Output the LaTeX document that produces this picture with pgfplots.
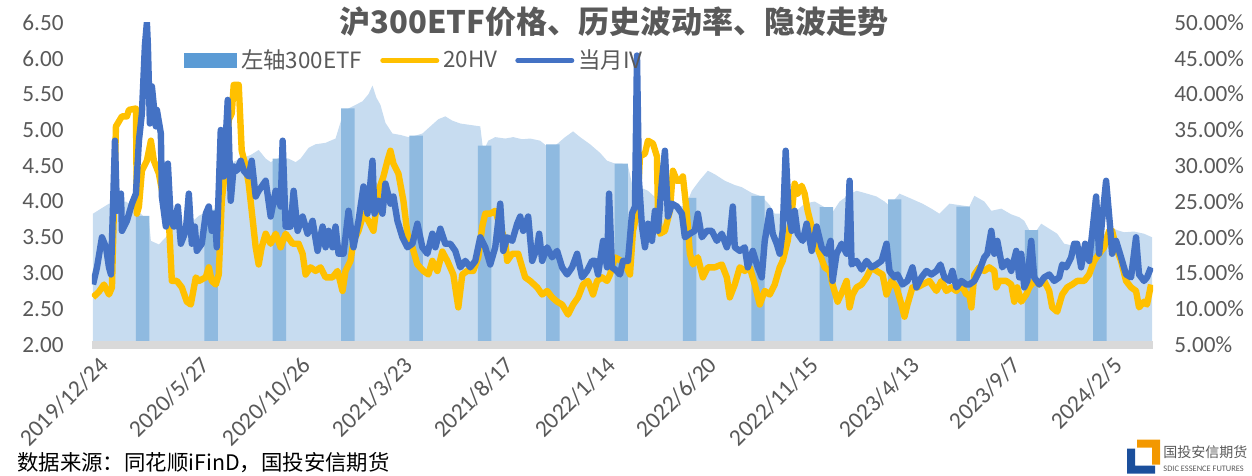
\documentclass[border=0pt]{standalone}
\usepackage{pgfplots}
\pgfplotsset{compat=1.18}
\usepackage{fontspec}
\setmainfont{Carlito}
\newfontfamily\cjk{Noto Sans CJK SC}

\definecolor{etflight}{HTML}{C7DCF0}
\definecolor{etfdark}{HTML}{8FBAE0}
\definecolor{etfkey}{HTML}{5B9BD5}
\definecolor{hv}{HTML}{FFC000}
\definecolor{iv}{HTML}{4472C4}
\definecolor{txt}{HTML}{595959}
\definecolor{axgray}{HTML}{D9D9D9}
\definecolor{logoorange}{HTML}{F39800}
\definecolor{logoblue}{HTML}{1B4F9C}

% 300ETF close (left axis); x = trading-day position
\pgfplotstableread{
x y
0 3.83
8 3.90
16 3.97
23 3.98
33 4.00
43 3.90
50 3.80
56 3.75
58 3.45
66 3.40
73 3.50
78 3.60
88 3.65
98 3.70
106 3.80
113 3.85
120 3.88
126 3.95
130 4.20
134 4.40
140 4.55
148 4.60
158 4.65
166 4.72
173 4.60
178 4.55
188 4.62
196 4.60
203 4.55
208 4.60
216 4.75
223 4.80
233 4.82
243 4.88
250 5.20
256 5.30
263 5.35
270 5.40
276 5.50
280 5.62
284 5.45
288 5.35
293 5.10
300 4.95
308 4.93
316 4.90
323 4.92
330 4.95
338 5.05
346 5.15
353 5.19
360 5.13
368 5.09
378 5.07
388 5.05
391 4.70
396 4.85
403 4.90
413 4.88
421 4.90
430 4.87
438 4.88
448 4.85
455 4.77
463 4.78
473 4.90
481 4.98
488 4.90
498 4.80
508 4.68
515 4.57
523 4.53
530 4.53
536 4.50
540 4.25
548 4.20
556 4.15
564 4.05
572 3.98
580 3.93
588 3.93
594 3.95
600 4.15
608 4.30
616 4.43
623 4.38
633 4.29
643 4.23
650 4.20
660 4.12
670 4.07
678 3.95
683 3.83
693 3.83
703 3.85
713 3.97
723 4.00
733 3.92
740 3.83
748 4.00
758 4.10
765 4.15
773 4.12
785 4.07
793 4.00
798 3.94
808 4.11
818 4.05
831 3.97
840 3.90
848 3.83
858 3.97
868 3.95
878 3.93
883 4.08
893 4.00
900 3.87
910 3.90
920 3.82
928 3.78
933 3.73
938 3.60
943 3.55
950 3.69
958 3.62
966 3.55
973 3.41
983 3.38
993 3.36
1002 3.38
1008 3.45
1016 3.60
1020 3.64
1026 3.60
1033 3.57
1043 3.58
1053 3.55
1061 3.50
}\etf

% darker bars that show up at regular spacing
\pgfplotstableread{
x y
49.75 3.80
118.25 3.88
186.75 4.60
255.25 5.30
323.75 4.92
392.25 4.78
460.75 4.80
529.25 4.53
597.75 4.05
666.25 4.08
734.75 3.92
803.25 4.03
871.75 3.93
940.25 3.60
1008.75 3.50
}\etfbars

% 20-day historical volatility, %
\pgfplotstableread{
x y
0 11.6
6 12.4
11 13.4
16 12.0
19 13.0
23 35.5
29 36.9
34 36.9
36 37.8
43 38.0
44 23.3
46 24.3
49 29.3
54 30.7
58 33.5
61 30.7
66 28.9
71 25.1
76 22.3
79 13.9
84 13.9
89 13.0
94 11.0
98 10.6
103 14.4
106 13.9
113 14.4
116 15.8
119 13.9
123 13.4
126 14.8
129 25.1
133 30.3
136 36.4
139 37.3
141 41.3
146 41.3
149 32.1
153 29.9
156 27.5
159 23.7
163 18.6
166 16.2
169 18.6
173 20.5
178 19.1
183 20.5
188 18.6
193 20.5
200 19.1
206 19.1
210 17.7
213 14.8
218 15.8
223 15.3
228 15.8
233 14.4
240 14.4
245 15.3
250 12.5
253 15.3
258 16.7
261 19.5
266 20.9
271 23.3
276 22.3
281 20.9
286 26.5
291 28.5
295 30.7
298 32.1
301 30.3
306 28.9
311 25.1
315 20.5
320 18.6
325 16.2
331 15.3
336 14.8
340 16.7
345 15.3
350 18.0
355 16.7
361 14.8
366 10.2
370 14.8
375 15.3
381 15.3
386 17.2
390 21.5
393 23.3
398 23.3
403 23.7
408 21.5
413 19.5
415 16.7
420 17.7
426 17.7
430 15.8
433 14.4
438 13.9
445 13.0
450 12.0
455 12.5
460 11.6
465 11.0
470 10.6
476 9.2
481 10.6
486 11.6
491 13.4
496 13.9
501 12.0
505 13.9
510 14.4
515 13.9
518 14.8
523 17.2
528 16.8
533 16.2
538 14.8
541 20.9
545 23.3
548 31.3
553 31.7
556 33.5
561 33.1
565 31.3
566 23.7
568 20.5
573 20.9
578 23.7
581 29.3
585 27.9
588 27.9
591 28.5
595 23.3
598 17.7
601 16.2
606 17.2
611 14.4
616 15.8
623 15.8
630 16.2
635 14.4
638 11.6
643 13.4
648 15.8
653 15.3
658 15.8
663 13.4
668 10.6
673 12.5
678 12.0
683 13.4
688 15.8
691 16.7
696 19.5
700 23.3
703 27.5
706 26.1
710 27.2
713 26.1
716 23.7
720 21.5
723 19.5
728 17.7
733 15.8
738 15.3
741 13.4
746 11.0
751 12.5
755 13.9
758 10.2
761 12.0
765 13.0
770 13.4
775 14.4
780 15.8
785 15.3
791 14.8
795 12.0
800 13.9
805 13.0
810 10.6
813 8.9
816 10.6
821 13.0
826 13.0
831 13.4
838 13.9
845 12.5
850 13.9
855 12.5
860 13.0
865 12.5
870 13.4
875 12.0
878 12.0
880 10.2
883 14.8
888 15.8
893 15.3
898 15.8
903 15.3
905 13.0
908 13.9
915 13.9
920 13.4
923 11.0
926 13.0
930 11.0
935 12.0
938 13.0
943 13.9
948 13.4
953 13.9
958 12.5
961 10.2
966 9.6
971 12.0
976 13.0
981 13.4
986 13.9
993 13.9
998 14.8
1003 16.7
1008 17.7
1013 18.6
1018 20.9
1021 20.9
1025 18.6
1030 16.7
1035 13.9
1040 13.0
1045 12.5
1048 10.2
1053 11.0
1056 10.6
1060 13.4
}\hvdata

% front-month implied volatility, %
\pgfplotstableread{
x y
0 13.4
4 15.8
9 20.0
13 18.6
16 15.8
18 14.8
22 33.5
24 23.7
28 26.1
29 20.9
34 22.3
39 24.7
43 26.1
46 33.5
49 37.3
52 46.8
54 50.0
55 46.8
57 35.9
59 41.1
63 35.5
64 37.8
68 34.5
69 25.7
73 21.5
75 30.3
78 22.3
81 21.5
85 24.3
88 19.1
93 20.9
96 26.1
99 19.1
102 21.5
104 18.1
109 19.1
113 23.3
116 24.3
119 20.9
122 23.3
124 18.6
128 35.0
131 28.5
135 39.2
138 25.1
141 29.9
144 29.3
148 30.7
151 29.3
156 28.5
159 30.7
163 25.7
166 26.5
173 27.9
178 22.9
183 26.5
188 24.3
190 33.5
193 21.5
198 21.5
201 26.5
205 20.9
210 22.9
215 20.5
220 22.3
225 18.1
230 21.5
233 18.6
236 20.9
240 18.6
243 21.5
246 17.7
251 17.7
256 23.7
261 18.6
266 22.3
271 27.1
275 23.3
280 30.7
282 23.3
286 25.1
290 23.3
293 27.5
298 24.7
301 25.7
305 22.3
310 20.0
315 18.6
320 19.1
325 21.9
330 18.6
335 17.7
340 20.5
343 18.6
348 21.2
353 19.1
358 19.1
363 18.1
368 15.8
373 16.7
378 15.8
383 16.7
388 20.0
393 18.6
398 16.2
403 18.6
408 24.7
411 18.1
415 20.0
420 19.5
425 21.9
428 22.9
431 20.9
436 22.9
440 16.7
445 18.6
447 20.5
450 16.7
455 18.6
460 17.2
465 18.1
470 15.8
475 14.8
480 15.8
485 17.7
490 14.4
495 15.3
500 16.7
503 16.7
506 14.8
511 19.5
515 15.8
517 26.1
520 15.8
523 15.5
528 14.8
531 16.7
536 16.7
540 23.3
543 24.3
545 45.4
547 27.9
550 21.5
553 18.6
556 21.9
560 19.5
563 23.7
566 20.9
570 27.9
573 32.1
576 22.9
580 24.7
585 24.3
590 23.3
593 20.0
598 20.5
603 20.9
606 23.3
610 20.0
615 20.9
620 20.9
625 19.5
630 20.5
635 18.6
638 20.0
641 24.3
643 18.6
648 18.1
653 18.6
656 15.8
661 18.1
666 15.8
670 14.4
673 19.5
678 23.7
681 20.5
685 19.1
688 17.7
691 20.9
694 32.1
697 23.3
700 20.9
703 23.7
706 20.5
711 19.5
715 21.9
720 18.1
725 21.5
730 18.6
735 17.7
739 19.5
741 13.9
745 17.7
750 19.1
755 17.7
758 27.9
760 16.2
765 16.7
770 15.5
775 16.7
780 15.8
785 16.2
790 16.7
795 19.1
798 15.3
803 14.4
806 14.8
811 13.4
816 13.9
821 15.8
825 13.0
830 14.4
835 15.3
840 14.8
845 15.3
849 16.2
853 14.4
858 13.9
861 15.3
865 13.0
870 13.9
875 13.4
878 13.4
883 13.9
888 15.3
893 17.2
896 17.7
900 20.9
903 17.7
906 19.5
911 15.8
916 16.7
920 15.3
925 18.1
928 14.4
930 17.7
933 13.0
936 13.9
940 19.5
943 14.4
948 13.4
953 14.4
958 14.8
963 13.9
968 14.4
971 16.2
975 15.8
980 17.2
983 19.1
986 19.1
990 15.8
994 19.1
998 16.7
1001 20.5
1005 25.7
1008 17.7
1011 22.3
1015 27.9
1019 21.5
1021 17.7
1025 19.5
1030 17.2
1035 14.8
1040 14.4
1045 20.0
1048 14.8
1053 13.9
1056 14.4
1060 15.8
}\ivdata

\pgfplotsset{
  common/.style={
    scale only axis, width=530.5pt, height=161pt,
    xmin=-1, xmax=1062,
    major tick length=0pt,
    /pgf/number format/assume math mode=true,
    tick label style={font=\fontsize{11.6}{13}\selectfont, text=txt},
  },
}

\begin{document}
\begin{tikzpicture}
% page frame in pixel units of the reference (origin at top left)
\begin{scope}[shift={(-46pt,171pt)}, x=0.5pt, y=-0.5pt]
  \useasboundingbox (0,0) rectangle (1252,473);
\end{scope}

\begin{axis}[common,
  axis on top,
  ymin=2, ymax=6.5,
  axis x line*=bottom, axis y line*=left,
  y axis line style={draw=none},
  x axis line style={draw=axgray, line width=4pt},
  ytick={2,2.5,3,3.5,4,4.5,5,5.5,6,6.5},
  yticklabel style={/pgf/number format/fixed, /pgf/number format/fixed zerofill,
    /pgf/number format/precision=2, inner sep=0pt, xshift=-14pt},
  xtick={0,101.6,203.2,304.8,406.4,508,609.6,711.2,812.8,914.4,1016},
  xticklabels={2019/12/24,2020/5/27,2020/10/26,2021/3/23,2021/8/17,2022/1/14,
    2022/6/20,2022/11/15,2023/4/13,2023/9/7,2024/2/5},
  xticklabel style={font=\fontsize{11.8}{13}\selectfont, inner sep=0pt,
    xshift=2.5pt, yshift=-5pt, rotate=45, anchor=north east},
]
\addplot[fill=etflight, draw=none] table {\etf} \closedcycle;
\addplot[ybar, bar width=13.5, fill=etfdark, draw=none] table {\etfbars};
\end{axis}

\begin{axis}[common,
  ymin=5, ymax=50,
  axis x line=none, axis y line*=right,
  y axis line style={draw=none},
  ytick={5,10,...,50},
  yticklabel={\pgfmathprintnumber[fixed,fixed zerofill,precision=2]{\tick}\%},
  yticklabel style={inner sep=0pt, xshift=10.5pt, anchor=west},
  legend columns=3,
  legend style={at={(0.0867,0.882)}, anchor=west, draw=none, fill=none,
    inner sep=0pt, font=\cjk\fontsize{11.2}{13}\selectfont, text=txt,
    /tikz/every even column/.append style={column sep=7pt}},
]
\addlegendimage{legend image code/.code={\fill[etfkey] (0pt,-3.5pt) rectangle (26pt,3.5pt);}}
\addlegendentry{左轴300ETF}
\addplot[hv, line width=3.2pt, line join=round,
  legend image code/.code={\draw[hv, line width=2.5pt, line cap=round] (0pt,0pt) -- (27pt,0pt);}]
  table {\hvdata};
\addlegendentry{20HV}
\addplot[iv, line width=3.2pt, line join=round,
  legend image code/.code={\draw[iv, line width=2.5pt, line cap=round] (0pt,0pt) -- (27pt,0pt);}]
  table {\ivdata};
\addlegendentry{当月IV}
\end{axis}

\begin{scope}[shift={(-46pt,171pt)}, x=0.5pt, y=-0.5pt]
  \node[text=txt, font=\cjk\bfseries\fontsize{15.5}{18}\selectfont] at (614,19)
    {沪300ETF价格、历史波动率、隐波走势};
  \node[anchor=west, inner sep=0pt, font=\cjk\fontsize{10.7}{12}\selectfont] at (17,460)
    {数据来源：同花顺iFinD，国投安信期货};
  % logo
  \fill[logoorange] (1137,437) -- (1160,437) -- (1160,462) -- (1152,462) -- (1152,445) -- (1137,445) -- cycle;
  \fill[logoblue] (1127,446) -- (1135,446) -- (1135,463) -- (1155,463) -- (1155,471) -- (1127,471) -- cycle;
  \node[anchor=west, inner sep=0pt, text=txt, font=\cjk\fontsize{7}{8}\selectfont] at (1163,450) {国投安信期货};
  \node[anchor=west, inner sep=0pt, text=txt, font=\fontsize{4.2}{5}\selectfont] at (1163,466) {SDIC ESSENCE FUTURES};
\end{scope}
\end{tikzpicture}
\end{document}
